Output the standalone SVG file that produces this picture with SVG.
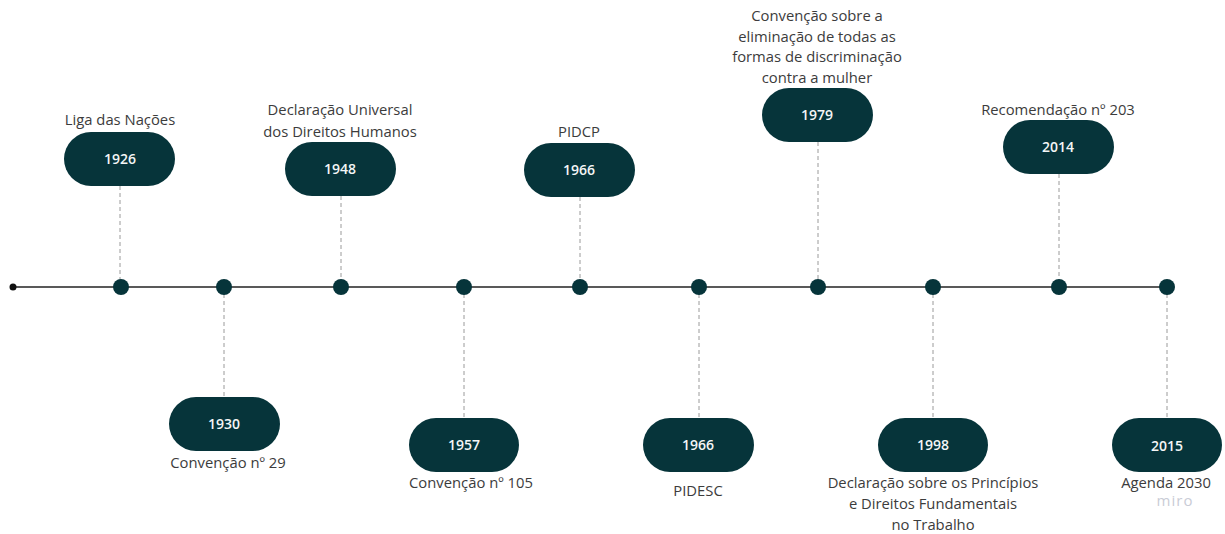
<svg xmlns="http://www.w3.org/2000/svg" width="1225" height="534" viewBox="0 0 1225 534">
<style>
.pill{fill:#06343a}
.yr{font-family:"Open Sans",sans-serif;font-size:14px;font-weight:600;fill:#f4f6f6;text-anchor:middle}
.lbl{font-family:"Open Sans",sans-serif;font-size:14.8px;fill:#3c3c3c;text-anchor:middle}
.dash{stroke:#9a9a9a;stroke-width:1;stroke-dasharray:4 3;fill:none}
.dot{fill:#06343a}
</style>
<rect width="1225" height="534" fill="#ffffff"/>
<g id="connectors">
<line x1="13" y1="287" x2="1168" y2="287" stroke="#222" stroke-width="1.5"/>
<circle cx="13" cy="287" r="3.5" fill="#111"/>
<line class="dash" x1="120" y1="186" x2="120" y2="287"/>
<line class="dash" x1="224" y1="287" x2="224" y2="397"/>
<line class="dash" x1="341" y1="196" x2="341" y2="287"/>
<line class="dash" x1="464" y1="287" x2="464" y2="418"/>
<line class="dash" x1="580" y1="197" x2="580" y2="287"/>
<line class="dash" x1="699" y1="287" x2="699" y2="418"/>
<line class="dash" x1="818" y1="142" x2="818" y2="287"/>
<line class="dash" x1="933" y1="287" x2="933" y2="418"/>
<line class="dash" x1="1059" y1="174" x2="1059" y2="287"/>
<line class="dash" x1="1167" y1="287" x2="1167" y2="418"/>
<circle class="dot" cx="121" cy="287" r="8"/>
<circle class="dot" cx="224" cy="287" r="8"/>
<circle class="dot" cx="341" cy="287" r="8"/>
<circle class="dot" cx="464" cy="287" r="8"/>
<circle class="dot" cx="580" cy="287" r="8"/>
<circle class="dot" cx="699" cy="287" r="8"/>
<circle class="dot" cx="818" cy="287" r="8"/>
<circle class="dot" cx="933" cy="287" r="8"/>
<circle class="dot" cx="1059" cy="287" r="8"/>
<circle class="dot" cx="1167" cy="287" r="8"/>
</g>
<g id="n1926">
<rect class="pill" x="64" y="132" width="111" height="54" rx="27"/>
<text class="yr" x="120" y="164">1926</text>
<text class="lbl" x="120" y="125">Liga das Nações</text>
</g>
<g id="n1930">
<rect class="pill" x="169" y="397" width="111" height="54" rx="27"/>
<text class="yr" x="224" y="429">1930</text>
<text class="lbl" x="228" y="468">Convenção nº 29</text>
</g>
<g id="n1948">
<rect class="pill" x="285" y="142" width="111" height="54" rx="27"/>
<text class="yr" x="340" y="174">1948</text>
<text class="lbl" x="340" y="115">Declaração Universal</text>
<text class="lbl" x="340" y="137">dos Direitos Humanos</text>
</g>
<g id="n1957">
<rect class="pill" x="409" y="418" width="110" height="54" rx="27"/>
<text class="yr" x="464" y="450">1957</text>
<text class="lbl" x="471" y="488">Convenção nº 105</text>
</g>
<g id="n1966a">
<rect class="pill" x="524" y="143" width="111" height="54" rx="27"/>
<text class="yr" x="579" y="175">1966</text>
<text class="lbl" x="579" y="137">PIDCP</text>
</g>
<g id="n1966b">
<rect class="pill" x="643" y="418" width="111" height="54" rx="27"/>
<text class="yr" x="698" y="450">1966</text>
<text class="lbl" x="698" y="496">PIDESC</text>
</g>
<g id="n1979">
<rect class="pill" x="762" y="88" width="111" height="54" rx="27"/>
<text class="yr" x="817" y="120">1979</text>
<text class="lbl" x="817" y="21">Convenção sobre a</text>
<text class="lbl" x="817" y="42">eliminação de todas as</text>
<text class="lbl" x="817" y="62">formas de discriminação</text>
<text class="lbl" x="817" y="83">contra a mulher</text>
</g>
<g id="n1998">
<rect class="pill" x="878" y="418" width="110" height="54" rx="27"/>
<text class="yr" x="933" y="450">1998</text>
<text class="lbl" x="933" y="488">Declaração sobre os Princípios</text>
<text class="lbl" x="933" y="509">e Direitos Fundamentais</text>
<text class="lbl" x="933" y="530">no Trabalho</text>
</g>
<g id="n2014">
<rect class="pill" x="1003" y="120" width="111" height="54" rx="27"/>
<text class="yr" x="1058" y="152">2014</text>
<text class="lbl" x="1058" y="115">Recomendação nº 203</text>
</g>
<g id="n2015">
<rect class="pill" x="1112" y="418" width="110" height="54" rx="27"/>
<text class="yr" x="1167" y="451">2015</text>
<text class="lbl" x="1166" y="488">Agenda 2030</text>
<text x="1175" y="506" font-family="Open Sans, sans-serif" font-size="15" fill="#c9ccd6" text-anchor="middle" letter-spacing="1">miro</text>
</g>
</svg>
